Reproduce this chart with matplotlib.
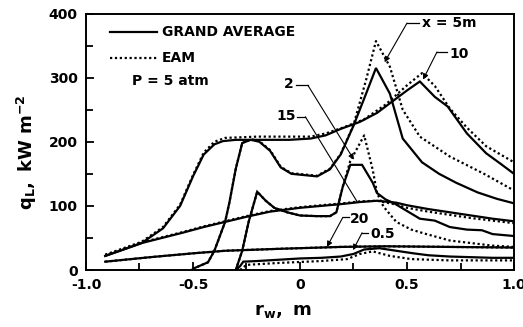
import matplotlib
matplotlib.use("Agg")
import matplotlib.pyplot as plt

plt.rcParams["font.family"] = ["DejaVu Sans"]
plt.rcParams["mathtext.fontset"] = "custom"
plt.rcParams["mathtext.rm"] = "DejaVu Sans:bold"
plt.rcParams["mathtext.it"] = "DejaVu Sans:bold"
plt.rcParams["mathtext.bf"] = "DejaVu Sans:bold"

# Wall heat flux profiles q_L(r_w) at several axial stations x (m), P = 5 atm
# --- grand-average model (solid) ---
ga_x10_r = [-0.91, -0.85, -0.74, -0.64, -0.56, -0.50, -0.45, -0.40, -0.36, -0.30, -0.20, -0.05, 0.05, 0.12, 0.19, 0.28, 0.36, 0.44, 0.50, 0.56, 0.63, 0.69, 0.78, 0.87, 0.94, 1.00]
ga_x10_q = [22, 29, 42, 65, 100, 146, 180, 196, 201, 203, 203, 203, 205, 210, 220, 231, 245, 265, 280, 294, 270, 255, 213, 182, 165, 150]

ga_x5_r = [-0.50, -0.43, -0.40, -0.35, -0.33, -0.30, -0.27, -0.23, -0.19, -0.14, -0.09, -0.04, 0.02, 0.08, 0.14, 0.19, 0.25, 0.31, 0.355, 0.42, 0.48, 0.57, 0.65, 0.73, 0.83, 0.92, 1.00]
ga_x5_q = [2, 12, 30, 75, 105, 158, 198, 203, 200, 186, 160, 150, 148, 146, 157, 180, 225, 276, 315, 275, 205, 168, 150, 136, 121, 111, 104]

ga_x2_r = [-0.30, -0.27, -0.24, -0.20, -0.16, -0.12, -0.06, 0.00, 0.08, 0.14, 0.17, 0.20, 0.235, 0.29, 0.34, 0.36, 0.40, 0.44, 0.50, 0.56, 0.63, 0.70, 0.78, 0.85, 0.90, 1.00]
ga_x2_q = [0, 30, 75, 122, 108, 97, 90, 85, 84, 84, 90, 130, 164, 164, 136, 120, 110, 104, 92, 80, 77, 67, 63, 62, 56, 53]

ga_x15_r = [-0.91, -0.85, -0.74, -0.55, -0.45, -0.35, -0.25, -0.14, 0.00, 0.10, 0.20, 0.28, 0.36, 0.45, 0.50, 0.60, 0.70, 0.80, 0.90, 1.00]
ga_x15_q = [22, 29, 42, 58, 67, 75, 83, 91, 97, 100, 103, 106, 108, 105, 101, 95, 90, 85, 80, 76]

ga_x20_r = [-0.91, -0.70, -0.50, -0.35, -0.10, 0.19, 0.40, 0.70, 1.00]
ga_x20_q = [13, 20, 26, 30, 33, 36, 37, 36, 35]

ga_x05_r = [-0.30, -0.28, -0.265, -0.20, -0.10, 0.00, 0.10, 0.19, 0.25, 0.30, 0.37, 0.45, 0.53, 0.60, 0.70, 0.80, 0.90, 1.00]
ga_x05_q = [0, 6, 13, 14, 16, 18, 19, 21, 25, 32, 34, 30, 26, 23, 21, 20, 19, 19]

# --- EAM model (dotted) ---
eam_x10_r = [-0.91, -0.85, -0.74, -0.64, -0.56, -0.50, -0.45, -0.40, -0.35, -0.20, 0.05, 0.12, 0.20, 0.30, 0.40, 0.50, 0.57, 0.63, 0.70, 0.78, 0.87, 1.00]
eam_x10_q = [24, 31, 44, 67, 102, 148, 183, 200, 206, 208, 208, 213, 222, 235, 258, 288, 307, 287, 252, 222, 193, 168]

eam_x5_r = [-0.50, -0.43, -0.40, -0.35, -0.33, -0.30, -0.27, -0.23, -0.19, -0.14, -0.09, -0.04, 0.02, 0.08, 0.14, 0.19, 0.25, 0.31, 0.355, 0.42, 0.48, 0.56, 0.70, 0.86, 1.00]
eam_x5_q = [2, 12, 30, 75, 105, 158, 198, 204, 201, 187, 161, 151, 149, 147, 158, 181, 226, 298, 357, 317, 250, 208, 177, 150, 124]

eam_x2_r = [-0.30, -0.27, -0.24, -0.20, -0.16, -0.12, -0.06, 0.00, 0.08, 0.14, 0.17, 0.20, 0.235, 0.30, 0.34, 0.36, 0.39, 0.45, 0.52, 0.58, 0.70, 0.80, 0.90, 1.00]
eam_x2_q = [0, 30, 75, 122, 108, 97, 90, 85, 84, 84, 90, 130, 170, 210, 156, 120, 99, 75, 63, 57, 46, 42, 38, 36]

eam_x15_r = [-0.91, -0.85, -0.74, -0.55, -0.45, -0.35, -0.25, -0.14, 0.00, 0.10, 0.20, 0.28, 0.36, 0.45, 0.50, 0.60, 0.70, 0.80, 0.90, 1.00]
eam_x15_q = [23, 30, 43, 59, 68, 76, 84, 92, 98, 101, 104, 107, 108, 102, 97, 91, 86, 81, 77, 73]

eam_x20_r = ga_x20_r
eam_x20_q = ga_x20_q

eam_x05_r = [-0.28, -0.25, -0.10, 0.10, 0.22, 0.28, 0.34, 0.42, 0.52, 0.70, 1.00]
eam_x05_q = [0, 8, 11, 14, 17, 25, 29, 22, 17, 15, 15]

grand_average = [(ga_x10_r, ga_x10_q), (ga_x5_r, ga_x5_q), (ga_x2_r, ga_x2_q),
                 (ga_x15_r, ga_x15_q), (ga_x20_r, ga_x20_q), (ga_x05_r, ga_x05_q)]
eam = [(eam_x10_r, eam_x10_q), (eam_x5_r, eam_x5_q), (eam_x2_r, eam_x2_q),
       (eam_x15_r, eam_x15_q), (eam_x20_r, eam_x20_q), (eam_x05_r, eam_x05_q)]

x_ticks = [-1.0, -0.5, 0.0, 0.5, 1.0]
x_tick_labels = ["-1.0", "-0.5", "0", "0.5", "1.0"]
y_ticks = [0, 100, 200, 300, 400]
y_tick_labels = ["0", "100", "200", "300", "400"]

# station labels: text, anchor, alignment, leader dash (x0, x1, y), arrow tip, arrowhead?
station_labels = [
    ("x = 5m", (0.572, 385), "left", (0.500, 0.555, 385), (0.395, 324), True),
    ("10", (0.700, 337), "left", (0.640, 0.688, 340), (0.575, 297), True),
    ("2", (-0.030, 290), "right", (-0.020, 0.037, 288), (0.252, 172), True),
    ("15", (-0.020, 240), "right", (-0.012, 0.025, 239), (0.266, 107), False),
    ("20", (0.234, 80), "left", (0.200, 0.228, 82), (0.126, 36), True),
    ("0.5", (0.327, 56), "left", (0.290, 0.320, 58), (0.248, 31), True),
]

fig = plt.figure(figsize=(5.23, 3.27), dpi=100)
ax = fig.add_axes([0.1644, 0.1743, 0.8184, 0.7844])

lw = 1.6
for r, q in grand_average:
    ax.plot(r, q, color="black", lw=lw, solid_joinstyle="miter")
for r, q in eam:
    ax.plot(r, q, color="black", lw=lw, linestyle=(0, (1, 1.2)))

ax.set_xlim(-1.0, 1.0)
ax.set_ylim(0, 400)
ax.set_xticks(x_ticks)
ax.set_xticklabels(x_tick_labels)
ax.set_xticks([-0.75, -0.25, 0.25, 0.75], minor=True)
ax.set_yticks(y_ticks)
ax.set_yticklabels(y_tick_labels)
ax.set_yticks([50, 150, 250, 350], minor=True)
ax.tick_params(which="both", direction="in", top=False, right=False,
               width=1.3, labelsize=10)
ax.tick_params(which="major", length=6, pad=6)
ax.tick_params(which="minor", length=5)
for lab in ax.get_xticklabels() + ax.get_yticklabels():
    lab.set_fontweight("bold")
for s in ax.spines.values():
    s.set_linewidth(1.4)

# legend drawn by hand
ax.plot([-0.888, -0.668], [371, 371], color="black", lw=lw)
ax.text(-0.645, 371, "GRAND AVERAGE", fontsize=10, fontweight="bold", va="center")
ax.plot([-0.888, -0.668], [331, 331], color="black", lw=lw, linestyle=(0, (1, 1.2)))
ax.text(-0.645, 331, "EAM", fontsize=10, fontweight="bold", va="center")
ax.text(-0.785, 295, "P = 5 atm", fontsize=10, fontweight="bold", va="center")

for text, (tx, ty), ha, (dx0, dx1, dy), tip, head in station_labels:
    ax.text(tx, ty, text, fontsize=10, fontweight="bold", va="center", ha=ha)
    ax.plot([dx0, dx1], [dy, dy], color="black", lw=0.9)
    corner = (dx0, dy) if ha == "left" else (dx1, dy)
    style = "-|>" if head else "-"
    ax.annotate("", xy=tip, xytext=corner,
                arrowprops=dict(arrowstyle=style, color="black", lw=0.8,
                                mutation_scale=8, shrinkA=0, shrinkB=0))

fig.text(0.052, 0.535, r"$\mathrm{q_L,\ kW\ m^{-2}}$", rotation=90,
         fontsize=13, ha="center", va="center")
fig.text(0.541, 0.049, r"$\mathrm{r_w,\ m}$", fontsize=13, ha="center", va="center")

fig.savefig("out.png", dpi=100)
